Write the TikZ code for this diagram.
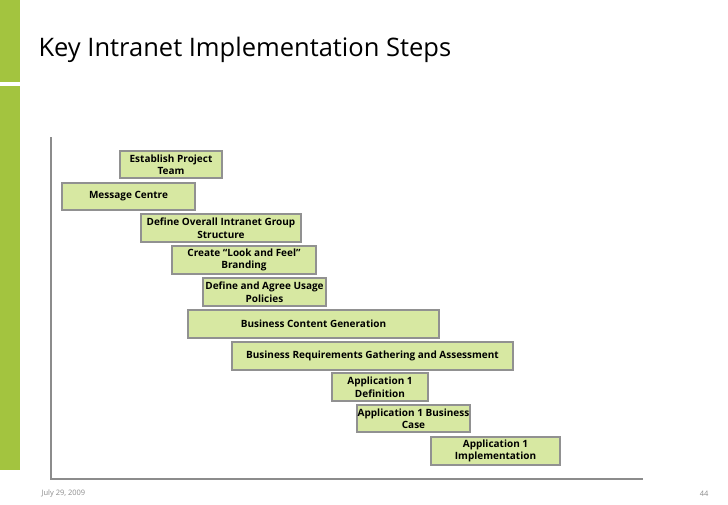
\documentclass[tikz,border=0pt]{standalone}
\usepackage{fontspec}
\setmainfont{Open Sans}
\begin{document}
\begin{tikzpicture}[x=1pt,y=-1pt,
  bar/.style={draw=black!43,line width=2.5pt,fill=barfill,inner sep=0pt},
  lbl/.style={font=\fontsize{10}{12.5}\selectfont\bfseries,align=center,text=black}]
\definecolor{barfill}{HTML}{D7E8A2}
\definecolor{sidegreen}{HTML}{A3C43F}
\useasboundingbox (0,0) rectangle (728,504);
\fill[white] (0,0) rectangle (728,504);
\fill[sidegreen] (0,0) rectangle (20,82);
\fill[sidegreen] (0,86) rectangle (20,470);
\node[anchor=west,font=\fontsize{25.5}{28}\selectfont] (title) at (35,50) {Key Intranet Implementation Steps};
\draw[black!45,line width=1.5pt] (51,137) coordinate (ax) -- (51,479) coordinate (o) -- (643,479) coordinate (ex);
\foreach \n/\a/\b/\c/\d/\t in {
 b1/120/151/222/178/{Establish Project\\Team},
 b2/62/183/195/210/{Message Centre},
 b3/141/214/301/242/{Define Overall Intranet Group\\Structure},
 b4/172/246/316/274/{Create “Look and Feel”\\Branding},
 b5/203/278/326/306/{Define and Agree Usage\\Policies},
 b6/188/310/439/338/{Business Content Generation},
 b7/232/342/513/370/{Business Requirements Gathering and Assessment},
 b8/332/373/428/401/{Application 1\\Definition},
 b9/357/405/470/432/{Application 1 Business\\Case},
 b10/431/437/560/465/{Application 1\\Implementation}}{
  \draw[bar] (\a,\b) rectangle (\c,\d);
  \node[lbl] (\n) at ({(\a+\c)/2},{(\b+\d)/2}) {\t};
}
\node[anchor=west,font=\fontsize{7.5}{8}\selectfont,text=black!45] (date) at (38,494) {July 29, 2009};
\node[anchor=east,font=\fontsize{7.5}{8}\selectfont,text=black!45] (pg) at (712,494) {44};
\end{tikzpicture}
\end{document}
